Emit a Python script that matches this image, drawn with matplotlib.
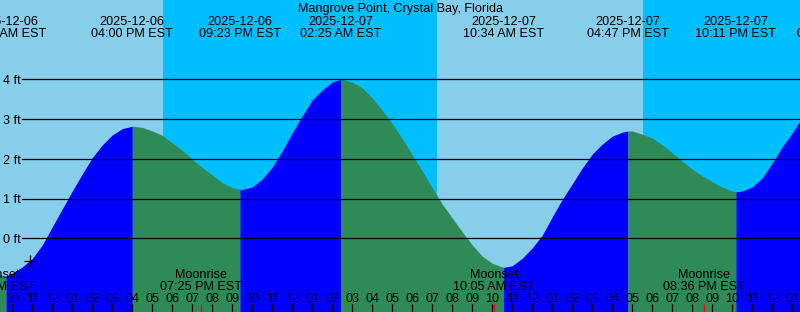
import numpy as np
import pandas as pd
import matplotlib
matplotlib.use("Agg")
import matplotlib.pyplot as plt
from matplotlib.transforms import blended_transform_factory

plt.rcParams['font.family'] = ['Liberation Sans', 'DejaVu Sans']

title = "Mangrove Point, Crystal Bay, Florida"
base = pd.Timestamp("2025-12-06 00:00")

# tide heights every half hour (9:00 AM Dec 6 .. 2:00 AM Dec 8)
read_stamps = pd.date_range("2025-12-06 09:00", "2025-12-08 02:00", freq="30min")
read_heights = [-0.80, -0.93, -0.88, -0.72, -0.51, -0.17, 0.29, 0.74, 1.19, 1.62,
                2.03, 2.35, 2.60, 2.76, 2.82, 2.79, 2.70, 2.59, 2.40, 2.21,
                1.99, 1.78, 1.59, 1.40, 1.27, 1.23, 1.29, 1.49, 1.79, 2.20,
                2.65, 3.08, 3.48, 3.73, 3.93, 4.00, 3.93, 3.78, 3.53, 3.22,
                2.88, 2.51, 2.10, 1.69, 1.27, 0.86, 0.51, 0.16, -0.17, -0.45,
                -0.63, -0.72, -0.69, -0.50, -0.24, 0.08, 0.54, 0.98, 1.37, 1.77,
                2.12, 2.37, 2.57, 2.67, 2.70, 2.62, 2.52, 2.35, 2.15, 1.94,
                1.74, 1.57, 1.42, 1.29, 1.19, 1.19, 1.29, 1.52, 1.89, 2.30,
                2.65, 3.05, 3.28]

# high / low tides
tide_stamps = ["2025-12-06 09:41", "2025-12-06 16:00", "2025-12-06 21:23",
               "2025-12-07 02:25", "2025-12-07 10:34", "2025-12-07 16:47",
               "2025-12-07 22:11", "2025-12-08 03:17"]
tide_heights = [-0.95, 2.82, 1.23, 4.00, -0.73, 2.70, 1.17, 3.55]

# sun and moon
night_start = ["2025-12-06 17:32", "2025-12-07 17:32"]
night_end = ["2025-12-07 07:14", "2025-12-08 07:14"]
moon_stamps = ["2025-12-06 09:08", "2025-12-06 19:25", "2025-12-07 10:05", "2025-12-07 20:36"]
moon_names = ["Moonset", "Moonrise", "Moonset", "Moonrise"]
mark_stamp = "2025-12-06 10:53"
mark_height = -0.57

ft_levels = [0, 1, 2, 3, 4]


def hrs(s):
    return (pd.to_datetime(s) - base) / pd.Timedelta(hours=1)


W, H = 800, 312
fig = plt.figure(figsize=(W / 100, H / 100), dpi=100)
ax = fig.add_axes([0, 0, 1, 1])
t0 = 9.385
ax.set_xlim(t0, t0 + 40)
ybot, ytop = -1.854, 5.995
ax.set_ylim(ybot, ytop)
ax.axis('off')
ax.add_patch(plt.Rectangle((0, 0), 1, 1, transform=ax.transAxes, color='#87CEEB', zorder=0))

for a, b in zip(night_start, night_end):
    ax.axvspan(hrs(a), hrs(b), color='#00BFFF', lw=0, zorder=1)

# merge the readings with the extremes
tr_ = np.asarray(hrs(read_stamps), dtype=float)
te = np.array([hrs(s) for s in tide_stamps])
t_all = np.concatenate([tr_, te])
h_all = np.concatenate([read_heights, tide_heights])
t_all, idx = np.unique(t_all, return_index=True)
h_all = h_all[idx]

# blue while rising, green while falling
bounds = [t_all[0]] + [t for t in te if t_all[0] < t < t_all[-1]] + [t_all[-1]]
for b0, b1 in zip(bounds[:-1], bounds[1:]):
    m = (t_all >= b0) & (t_all <= b1)
    rising = np.interp(b1, t_all, h_all) > np.interp(b0, t_all, h_all)
    ax.fill_between(t_all[m], ybot, h_all[m], color='#0000FF' if rising else '#2E8B57',
                    lw=0, zorder=2)

px = 1 / 39.75  # ft per pixel
tr = blended_transform_factory(ax.transData, ax.transAxes)
fs = 9.1

# foot lines
for lv in ft_levels:
    ax.axhline(lv, xmin=22 / W, xmax=1, color='black', lw=0.9, zorder=3)
    ax.text(t0 + 3 / 20, lv - 4.7 * px, f"{lv} ft", fontsize=fs, ha='left', va='baseline', zorder=4)

# hour ticks and labels
for t in range(9, 51):
    lw = 1.8 if t % 24 == 0 else 0.9
    ax.vlines(t, ybot, ybot + 8 * px, color='black', lw=lw, zorder=4)
    hh = t % 12
    ax.text(t, 1 - 302 / H, f"{hh if hh else 12:02d}", transform=tr, fontsize=fs,
            ha='center', va='baseline', zorder=4)

# tide labels at top
for s in tide_stamps:
    ts = pd.to_datetime(s)
    x = hrs(s)
    ax.text(x, 1 - 25 / H, ts.strftime("%Y-%m-%d"), transform=tr, fontsize=fs,
            ha='center', va='baseline', zorder=5)
    ax.text(x, 1 - 37 / H, ts.strftime("%I:%M %p EST"), transform=tr, fontsize=fs,
            ha='center', va='baseline', zorder=5)

# moon events
for s, name in zip(moon_stamps, moon_names):
    ts = pd.to_datetime(s)
    x = hrs(s)
    ax.vlines(x, ybot, ybot + 8 * px, color='red', lw=0.9, zorder=5)
    ax.text(x, 1 - 278 / H, name, transform=tr, fontsize=fs, ha='center', va='baseline', zorder=5)
    ax.text(x, 1 - 290 / H, ts.strftime("%I:%M %p EST"), transform=tr, fontsize=fs,
            ha='center', va='baseline', zorder=5)

ax.plot(hrs(mark_stamp), mark_height, marker='+', color='black', ms=8, mew=0.9, zorder=5)

ax.text(0.5, 1 - 12 / H, title, transform=ax.transAxes, fontsize=fs, ha='center',
        va='baseline', zorder=5)

fig.savefig("out.png", dpi=100)
